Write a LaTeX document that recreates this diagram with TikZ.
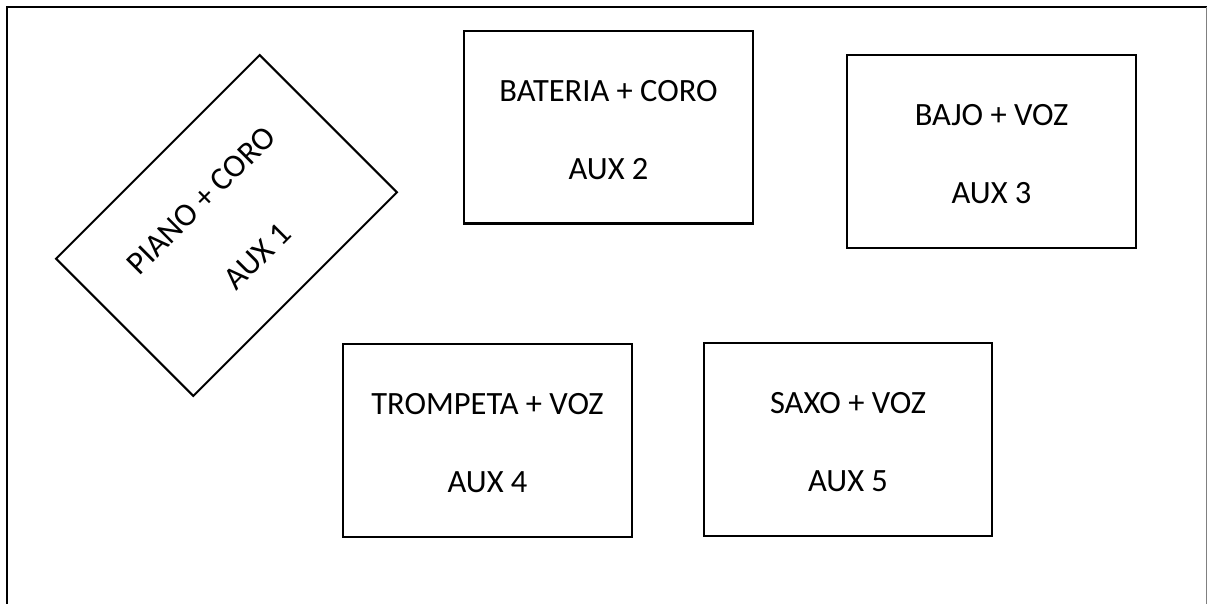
\documentclass[tikz,border=0pt]{standalone}
\usepackage{fontspec}
\setmainfont{Carlito}
\newcommand{\lineup}[1]{\rule{0pt}{#1}}
\begin{document}
\begin{tikzpicture}[x=1pt,y=-1pt,
  stagebox/.style={draw=black, line width=2pt, minimum width=289pt, minimum height=192pt,
    align=center, font=\fontsize{32.5}{39}\selectfont, inner sep=0pt}]
\useasboundingbox (0,0) rectangle (1207,604);
\fill[white] (0,0) rectangle (1207,604);
% outer frame
\coordinate (fbl) at (7,606);
\coordinate (ftl) at (7,7);
\coordinate (ftr) at (1208,7);
\draw[line width=2.5pt] (fbl) -- (ftl) -- (ftr);
\coordinate (frt) at (1206,7);
\coordinate (frb) at (1206,606);
\draw[line width=1pt, gray] (frt) -- (frb);
% boxes
\node[stagebox, rotate=45, minimum width=288pt, minimum height=194pt] (aux1) at (226.5,225.5) {\lineup{29pt}PIANO + CORO\\[40pt]AUX 1};
\node[stagebox] (aux2) at (608.5,127.5) {\lineup{26pt}BATERIA + CORO\\[39pt]AUX 2};
\node[stagebox, minimum height=193pt] (aux3) at (991.5,151.5) {\lineup{26pt}BAJO + VOZ\\[39pt]AUX 3};
\node[stagebox, minimum height=193pt] (aux4) at (487.5,440.5) {\lineup{26pt}TROMPETA + VOZ\\[39pt]AUX 4};
\node[stagebox, minimum width=288pt, minimum height=193pt] (aux5) at (848,439.5) {\lineup{26pt}SAXO + VOZ\\[39pt]AUX 5};
\end{tikzpicture}
\end{document}
